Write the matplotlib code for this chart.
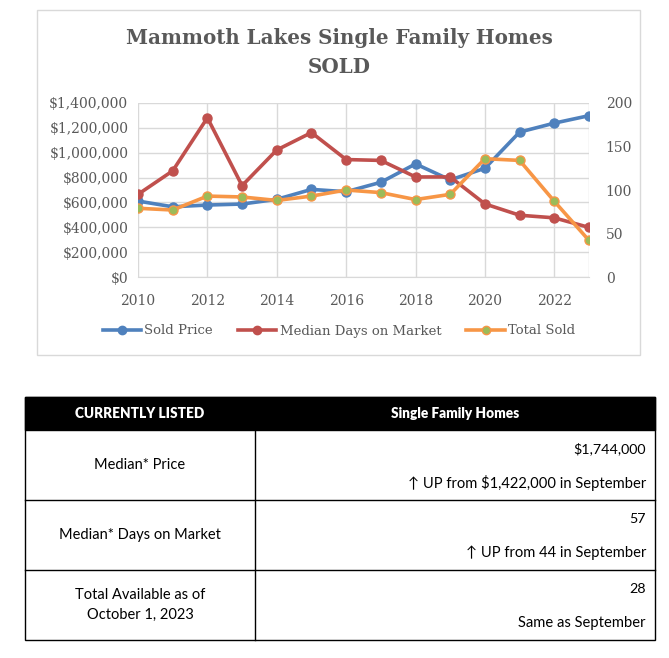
import matplotlib
matplotlib.use("Agg")
import matplotlib.pyplot as plt
from matplotlib.patches import Rectangle
from matplotlib.lines import Line2D
from matplotlib.ticker import FuncFormatter, MultipleLocator

years = list(range(2010, 2024))
sold_price = [611000, 565000, 579000, 587000, 625000, 705000, 686000,
              762000, 910000, 781000, 875000, 1166000, 1238000, 1298000]
median_days = [95, 122, 183, 105, 146, 166, 135, 134, 115, 115, 84, 71, 68, 57]
total_sold = [79, 77, 93, 92, 88, 93, 100, 97, 89, 95, 136, 134, 87, 42]

title_lines = ["Mammoth Lakes Single Family Homes", "SOLD"]
series_names = ["Sold Price", "Median Days on Market", "Total Sold"]

table_header = ["CURRENTLY LISTED", "Single Family Homes"]
row_labels = ["Median* Price", "Median* Days on Market", "Total Available as of\nOctober 1, 2023"]
row_values = ["$1,744,000", "57", "28"]
row_notes = ["\u2191 UP from $1,422,000 in September", "\u2191 UP from 44 in September", "Same as September"]

W, H = 669, 658
fig = plt.figure(figsize=(W / 100, H / 100), dpi=100)

def fx(px):
    return px / W

def fy(py):
    return 1 - py / H

BLUE = "#4F81BD"
RED = "#C0504D"
ORANGE = "#F79646"
GREEN = "#9BBB59"
GRID = "#D9D9D9"
TXT = "#595959"
serif = "DejaVu Serif"

# chart border
fig.patches.append(Rectangle((fx(37), fy(355)), fx(640) - fx(37), fy(10) - fy(355),
                             transform=fig.transFigure, fill=False, edgecolor=GRID, lw=1))

ax = fig.add_axes([fx(138), fy(277), fx(589) - fx(138), fy(103) - fy(277)])
ax2 = ax.twinx()

ax.plot(years, sold_price, color=BLUE, lw=2.6, marker="o", ms=6.5, mfc=BLUE, mec=BLUE, zorder=3, solid_capstyle="round")
ax2.plot(years, median_days, color=RED, lw=2.6, marker="o", ms=6.5, mfc=RED, mec=RED, zorder=3, solid_capstyle="round")
ax2.plot(years, total_sold, color=ORANGE, lw=2.6, marker="o", ms=6.5, mfc=GREEN, mec=ORANGE, mew=1, zorder=4, solid_capstyle="round")

ax.set_xlim(2010, 2023)
ax.set_ylim(0, 1400000)
ax2.set_ylim(0, 200)
ax.xaxis.set_major_locator(MultipleLocator(2))
ax.yaxis.set_major_locator(MultipleLocator(200000))
ax2.yaxis.set_major_locator(MultipleLocator(50))
ax.yaxis.set_major_formatter(FuncFormatter(lambda v, p: "${:,.0f}".format(v)))
ax.grid(True, color=GRID, lw=1)
ax.set_axisbelow(True)
for a in (ax, ax2):
    for s in a.spines.values():
        s.set_visible(False)
    a.tick_params(length=0, colors=TXT, labelsize=10, pad=7)
    for lab in a.get_xticklabels() + a.get_yticklabels():
        lab.set_fontfamily(serif)
ax.spines["bottom"].set_visible(True)
ax.spines["bottom"].set_color(GRID)
ax.axvline(2023, color=GRID, lw=1, zorder=0)
ax.tick_params(axis="x", pad=12)
ax2.tick_params(axis="y", pad=12)

fig.text(fx(339), fy(38), title_lines[0], ha="center", va="center", fontsize=14.3,
         fontweight="bold", color=TXT, family=serif)
fig.text(fx(339), fy(67), title_lines[1], ha="center", va="center", fontsize=14.3,
         fontweight="bold", color=TXT, family=serif)

handles = [
    Line2D([], [], color=BLUE, lw=2.6, marker="o", ms=6, mfc=BLUE, mec=BLUE),
    Line2D([], [], color=RED, lw=2.6, marker="o", ms=6, mfc=RED, mec=RED),
    Line2D([], [], color=ORANGE, lw=2.6, marker="o", ms=6, mfc=GREEN, mec=ORANGE),
]
leg = fig.legend(handles, series_names, loc="center", bbox_to_anchor=(fx(339), fy(331)),
                 ncol=3, frameon=False, handlelength=2.9, columnspacing=1.9, handletextpad=0.25,
                 prop={"family": serif, "size": 9.5})
for t in leg.get_texts():
    t.set_color(TXT)

# table
sans = "Lato"
L, R, M = 25, 655, 255
rows_y = [397, 430, 500, 570, 640]
fig.patches.append(Rectangle((fx(L), fy(rows_y[1])), fx(R) - fx(L), fy(rows_y[0]) - fy(rows_y[1]),
                             transform=fig.transFigure, facecolor="black", edgecolor="black", lw=1))
fig.patches.append(Rectangle((fx(L), fy(rows_y[-1])), fx(R) - fx(L), fy(rows_y[0]) - fy(rows_y[-1]),
                             transform=fig.transFigure, fill=False, edgecolor="black", lw=1))
for yy in rows_y[2:-1]:
    fig.add_artist(Line2D([fx(L), fx(R)], [fy(yy), fy(yy)], color="black", lw=1, transform=fig.transFigure))
fig.add_artist(Line2D([fx(M), fx(M)], [fy(rows_y[1]), fy(rows_y[-1])], color="black", lw=1, transform=fig.transFigure))

fig.text(fx(140), fy(413), table_header[0], ha="center", va="center", color="white",
         fontsize=9.8, fontweight="heavy", family=sans)
fig.text(fx(455), fy(413), table_header[1], ha="center", va="center", color="white",
         fontsize=9.8, fontweight="heavy", family=sans)
for i in range(3):
    top, bot = rows_y[i + 1], rows_y[i + 2]
    fig.text(fx(140), fy((top + bot) / 2), row_labels[i], ha="center", va="center",
             color="black", fontsize=10.5, family=sans, linespacing=1.6)
    fig.text(fx(R - 9), fy(top + 19), row_values[i], ha="right", va="center",
             color="black", fontsize=10.3, family=sans)
    fig.text(fx(R - 9), fy(top + 53), row_notes[i], ha="right", va="center",
             color="black", fontsize=10.6, family=[sans, "DejaVu Sans"])

fig.savefig("out.png", dpi=100)
